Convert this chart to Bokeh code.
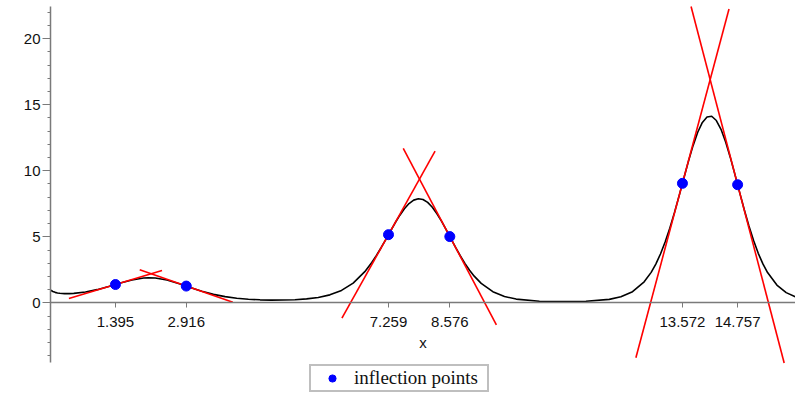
from bokeh.plotting import figure
from bokeh.models import FixedTicker, Range1d
from bokeh.embed import file_html
from bokeh.resources import INLINE

# curve values
curve_x = [0, 0.01, 0.025, 0.05, 0.1, 0.15, 0.2, 0.3, 0.4, 0.5, 0.75, 1.0, 1.25, 1.5, 1.75,
           2.0, 2.1, 2.25, 2.5, 2.75, 3.0, 3.25, 3.5, 3.75, 4.0, 4.25, 4.5, 4.75, 5.0, 5.25,
           5.5, 5.75, 6.0, 6.25, 6.5, 6.75, 6.9, 7.0, 7.1, 7.2, 7.3, 7.4, 7.5, 7.6, 7.7, 7.8,
           7.9, 8.0, 8.1, 8.2, 8.3, 8.4, 8.5, 8.6, 8.7, 8.8, 8.9, 9.0, 9.1, 9.25, 9.5, 9.75,
           10.0, 10.5, 11.0, 11.5, 12.0, 12.25, 12.5, 12.75, 12.9, 13.0, 13.1, 13.2, 13.3,
           13.4, 13.5, 13.6, 13.7, 13.8, 13.9, 14.0, 14.1, 14.2, 14.3, 14.4, 14.5, 14.6, 14.7,
           14.8, 14.9, 15.0, 15.1, 15.2, 15.3, 15.4, 15.6, 15.8, 16.0]
curve_y = [1.0, 0.955, 0.912, 0.861, 0.795, 0.753, 0.726, 0.701, 0.700, 0.717, 0.822, 1.0,
           1.236, 1.499, 1.734, 1.878, 1.897, 1.880, 1.730, 1.471, 1.168, 0.880, 0.644, 0.470,
           0.350, 0.274, 0.230, 0.211, 0.214, 0.241, 0.300, 0.411, 0.606, 0.941, 1.496, 2.362,
           3.057, 3.591, 4.174, 4.791, 5.422, 6.043, 6.619, 7.121, 7.516, 7.777, 7.883, 7.825,
           7.606, 7.241, 6.748, 6.166, 5.522, 4.857, 4.196, 3.569, 2.990, 2.473, 2.023, 1.472,
           0.844, 0.483, 0.286, 0.126, 0.091, 0.118, 0.264, 0.459, 0.846, 1.592, 2.310, 2.938,
           3.701, 4.608, 5.656, 6.831, 8.101, 9.417, 10.711, 11.904, 12.918, 13.657, 14.074,
           14.126, 13.805, 13.140, 12.183, 11.012, 9.711, 8.365, 7.048, 5.818, 4.714, 3.750,
           2.951, 2.291, 1.345, 0.776, 0.450]

# inflection points and tangent slopes
infl_x = [1.395, 2.916, 7.259, 8.576, 13.572, 14.757]
infl_y = [1.388, 1.271, 5.163, 5.017, 9.048, 8.944]
infl_slope = [1.060, -1.228, 6.325, -6.686, 13.200, -13.492]
infl_labels = ["1.395", "2.916", "7.259", "8.576", "13.572", "14.757"]
tangent_half_width = 1.0

y_major_ticks = [0, 5, 10, 15, 20]
y_minor_ticks = list(range(-4, 23))

p = figure(width=795, height=398, output_backend="svg", toolbar_location=None,
           x_range=Range1d(0, 16), y_range=Range1d(-7.24, 22.89),
           min_border_left=50, min_border_right=0, min_border_top=0, min_border_bottom=0)
p.outline_line_color = None
p.grid.visible = False
p.background_fill_color = "white"
p.border_fill_color = "white"

axis_color = "#7a7a7a"
label_color = "#111111"

xa = p.xaxis[0]
xa.fixed_location = 0
xa.ticker = FixedTicker(ticks=infl_x, minor_ticks=[])
xa.major_label_overrides = {x: s for x, s in zip(infl_x, infl_labels)}
xa.axis_line_color = axis_color
xa.axis_line_width = 1.5
xa.major_tick_line_color = axis_color
xa.major_tick_out = 5
xa.major_tick_in = 0
xa.minor_tick_out = 0
xa.major_label_standoff = 9
xa.major_label_text_font = "Liberation Sans"
xa.major_label_text_font_size = "15px"
xa.major_label_text_color = label_color
xa.axis_label = "x"
xa.axis_label_text_font = "Liberation Sans"
xa.axis_label_text_font_style = "normal"
xa.axis_label_text_font_size = "15px"
xa.axis_label_text_color = label_color
xa.axis_label_standoff = 4

ya = p.yaxis[0]
ya.ticker = FixedTicker(ticks=y_major_ticks, minor_ticks=y_minor_ticks)
ya.bounds = (-4.548, 22.436)
ya.axis_line_color = axis_color
ya.axis_line_width = 1.5
ya.major_tick_line_color = axis_color
ya.minor_tick_line_color = axis_color
ya.major_tick_out = 8
ya.major_tick_in = 0
ya.minor_tick_out = 3
ya.minor_tick_in = 0
ya.major_label_standoff = 2
ya.major_label_text_font = "Liberation Sans"
ya.major_label_text_font_size = "15px"
ya.major_label_text_color = label_color

p.line(curve_x, curve_y, line_color="black", line_width=1.6)

x0 = [x - tangent_half_width for x in infl_x]
x1 = [x + tangent_half_width for x in infl_x]
y0 = [y - s * tangent_half_width for y, s in zip(infl_y, infl_slope)]
y1 = [y + s * tangent_half_width for y, s in zip(infl_y, infl_slope)]
p.segment(x0, y0, x1, y1, line_color="red", line_width=1.6)

p.scatter(infl_x, infl_y, size=10, fill_color="blue", line_color="blue",
          legend_label="inflection points")

lg = p.legend[0]
lg.location = (259, 6)
lg.padding = 1
lg.glyph_width = 40
lg.glyph_height = 18
lg.label_standoff = 2
lg.label_height = 18
lg.label_width = 132
lg.label_text_font = "Liberation Serif"
lg.label_text_font_size = "19px"
lg.label_text_color = label_color
lg.border_line_color = "#808080"
lg.border_line_width = 2
lg.background_fill_alpha = 1
lg.margin = 0

open("out.html", "w").write(file_html(p, INLINE))
